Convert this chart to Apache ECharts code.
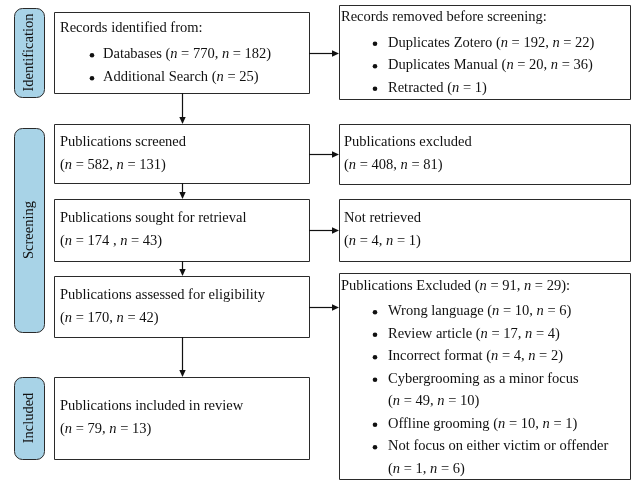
<!DOCTYPE html>
<html><head><meta charset="utf-8">
<script src="https://cdn.jsdelivr.net/npm/echarts@6/dist/echarts.min.js"></script>
<style>html,body{margin:0;padding:0;background:#fff}#c{width:631px;height:481px}</style>
</head><body><div id="c"></div><script>
// ---------- data ----------
const phases = ['Identification', 'Screening', 'Included'];
const flowTitles = ['Records identified from:', 'Publications screened', 'Publications sought for retrieval', 'Publications assessed for eligibility', 'Publications included in review'];
const flowCounts = [null, [582, 131], [174, 43], [170, 42], [79, 13]];
const sourceNames = ['Databases', 'Additional Search'];
const sourceCounts = [[770, 182], [25]];
const removedTitles = ['Records removed before screening:', 'Publications excluded', 'Not retrieved', 'Publications Excluded'];
const removedCounts = [null, [408, 81], [4, 1], [91, 29]];
const preScreenNames = ['Duplicates Zotero', 'Duplicates Manual', 'Retracted'];
const preScreenCounts = [[192, 22], [20, 36], [1]];
const reasonNames = ['Wrong language', 'Review article', 'Incorrect format', 'Cybergrooming as a minor focus', 'Offline grooming', 'Not focus on either victim or offender'];
const reasonCounts = [[10, 6], [17, 4], [4, 2], [49, 10], [10, 1], [1, 6]];
const flowSeparators = [', ', ', ', ' , ', ', ', ', '];

// ---------- layout (pixel space of the hidden axes) ----------
const FONT = '"Liberation Serif", "DejaVu Serif", serif';
const FS = 14.5;
const L = {
  leftX: [54, 309], rightX: [339, 630], pillX: [14, 44],
  leftY: [[12, 93], [124, 183], [199, 261], [276, 337], [377, 459]],
  rightY: [[5, 99], [124, 184], [199, 261], [273, 479]],
  pillY: [[8, 97], [128, 332], [377, 459]],
  leftFirst: [28, 141.7, 218, 295, 405.7],
  rightFirst: [17.5, 141.7, 218, 286],
  pairGap: 23, listGap: 25.5, step: 22.5,
  leftTextX: 60, leftBullet: 92, leftBulletText: 103,
  rightTitleX: [341, 344, 344, 341], rightBullet: 375, rightBulletText: 388
};

function nText(counts, sep) {
  return '(' + counts.map(v => '{i|n} = ' + v).join(sep || ', ') + ')';
}
const mctx = document.createElement('canvas').getContext('2d');
mctx.font = FS + 'px ' + FONT;
function textW(s) { return mctx.measureText(s.replace(/\{i\|n\}/g, 'n')).width; }

const boxes = [];
// left column
flowTitles.forEach((title, i) => {
  const y0 = L.leftFirst[i];
  const lines = [{ s: title, x: L.leftTextX, y: y0 }];
  if (i === 0) {
    sourceNames.forEach((nm, k) => lines.push({ s: nm + ' ' + nText(sourceCounts[k]), x: L.leftBulletText, y: y0 + 26.5 + k * 23, bullet: L.leftBullet }));
  } else {
    lines.push({ s: nText(flowCounts[i], flowSeparators[i]), x: L.leftTextX, y: y0 + L.pairGap });
  }
  boxes.push({ rect: [L.leftX[0], L.leftY[i][0], L.leftX[1], L.leftY[i][1]], lines });
});
// right column
removedTitles.forEach((title, i) => {
  const y0 = L.rightFirst[i];
  const tx = L.rightTitleX[i];
  const lines = [];
  if (i === 0) {
    lines.push({ s: title, x: tx, y: y0 });
    preScreenNames.forEach((nm, k) => lines.push({ s: nm + ' ' + nText(preScreenCounts[k]), x: L.rightBulletText, y: y0 + L.listGap + k * L.step, bullet: L.rightBullet }));
  } else if (i === 3) {
    lines.push({ s: title + ' ' + nText(removedCounts[i]) + ':', x: tx, y: y0 });
    const avail = L.rightX[1] - L.rightBulletText - 6;
    let row = 0;
    reasonNames.forEach((nm, k) => {
      const full = nm + ' ' + nText(reasonCounts[k]);
      const y = y0 + L.listGap + row * L.step;
      if (textW(full) > avail) {
        lines.push({ s: nm, x: L.rightBulletText, y, bullet: L.rightBullet });
        row++;
        lines.push({ s: nText(reasonCounts[k]), x: L.rightBulletText, y: y0 + L.listGap + row * L.step });
      } else {
        lines.push({ s: full, x: L.rightBulletText, y, bullet: L.rightBullet });
      }
      row++;
    });
  } else {
    lines.push({ s: title, x: tx, y: y0 });
    lines.push({ s: nText(removedCounts[i]), x: tx, y: y0 + L.pairGap });
  }
  boxes.push({ rect: [L.rightX[0], L.rightY[i][0], L.rightX[1], L.rightY[i][1]], lines });
});
// phase pills
phases.forEach((p, i) => {
  boxes.push({ rect: [L.pillX[0], L.pillY[i][0], L.pillX[1], L.pillY[i][1]], r: 8, fill: '#a8d3e7', label: p, lines: [] });
});

// arrows derived from box geometry
const arrows = [];
const cx = (L.leftX[0] + L.leftX[1]) / 2;
for (let i = 0; i < L.leftY.length - 1; i++) arrows.push([cx, L.leftY[i][1], cx, L.leftY[i + 1][0]]);
for (let i = 0; i < L.rightY.length; i++) {
  const y = Math.round((L.leftY[i][0] + L.leftY[i][1]) / 2);
  arrows.push([L.leftX[1], y, L.rightX[0], y]);
}

const textStyle = (s, extra) => Object.assign({
  text: s, fill: '#111', fontFamily: FONT, fontSize: FS,
  align: 'left', verticalAlign: 'middle',
  rich: { i: { fontStyle: 'italic', fontFamily: FONT, fontSize: FS, fill: '#111' } }
}, extra || {});

function renderBox(params, api) {
  const b = boxes[params.dataIndex];
  const p0 = api.coord([b.rect[0], b.rect[1]]);
  const p1 = api.coord([b.rect[2], b.rect[3]]);
  const children = [{
    type: 'rect',
    shape: { x: Math.round(p0[0]) + 0.5, y: Math.round(p0[1]) + 0.5, width: Math.round(p1[0] - p0[0]), height: Math.round(p1[1] - p0[1]), r: b.r || 0 },
    style: { fill: b.fill || '#fff', stroke: '#2a2a2a', lineWidth: 1 }
  }];
  if (b.label) {
    children.push({
      type: 'text', x: (p0[0] + p1[0]) / 2, y: (p0[1] + p1[1]) / 2, rotation: Math.PI / 2,
      style: textStyle(b.label, { align: 'center' })
    });
  }
  b.lines.forEach(ln => {
    const p = api.coord([ln.x, ln.y]);
    if (ln.bullet) {
      const bp = api.coord([ln.bullet, ln.y + 0.8]);
      children.push({ type: 'circle', shape: { cx: bp[0], cy: bp[1], r: 2.3 }, style: { fill: '#111' } });
    }
    children.push({ type: 'text', x: p[0], y: p[1], style: textStyle(ln.s) });
  });
  return { type: 'group', children };
}

function renderArrow(params, api) {
  const a = arrows[params.dataIndex];
  const s = api.coord([a[0], a[1]]), e = api.coord([a[2], a[3]]);
  const dx = e[0] - s[0], dy = e[1] - s[1];
  const len = Math.hypot(dx, dy), ux = dx / len, uy = dy / len;
  const hl = 7, hw = 3.2;
  const bx = e[0] - ux * hl, by = e[1] - uy * hl;
  const off = (v) => Math.round(v) + 0.5;
  const vertical = Math.abs(dx) < 1e-6;
  const x1 = vertical ? off(s[0]) : s[0], y1 = vertical ? s[1] : off(s[1]);
  const x2 = vertical ? off(bx) : bx, y2 = vertical ? by : off(by);
  const tx = vertical ? off(e[0]) : e[0], ty = vertical ? e[1] : off(e[1]);
  return {
    type: 'group', children: [
      { type: 'line', shape: { x1, y1, x2, y2 }, style: { stroke: '#111', lineWidth: 1.2 } },
      { type: 'polygon', shape: { points: [[tx, ty], [x2 - uy * hw, y2 + ux * hw], [x2 + uy * hw, y2 - ux * hw]] }, style: { fill: '#111' } }
    ]
  };
}

const chart = echarts.init(document.getElementById('c'), null, { renderer: 'canvas' });
chart.setOption({
  backgroundColor: '#fff',
  animation: false,
  grid: { left: 0, right: 0, top: 0, bottom: 0 },
  xAxis: { type: 'value', min: 0, max: 631, show: false },
  yAxis: { type: 'value', min: 0, max: 481, inverse: true, show: false },
  series: [
    { type: 'custom', coordinateSystem: 'cartesian2d', silent: true, clip: false, renderItem: renderBox, data: boxes.map((b, i) => [i, 0]) },
    { type: 'custom', coordinateSystem: 'cartesian2d', silent: true, clip: false, renderItem: renderArrow, data: arrows.map((a, i) => [i, 0]) }
  ]
});
</script></body></html>
